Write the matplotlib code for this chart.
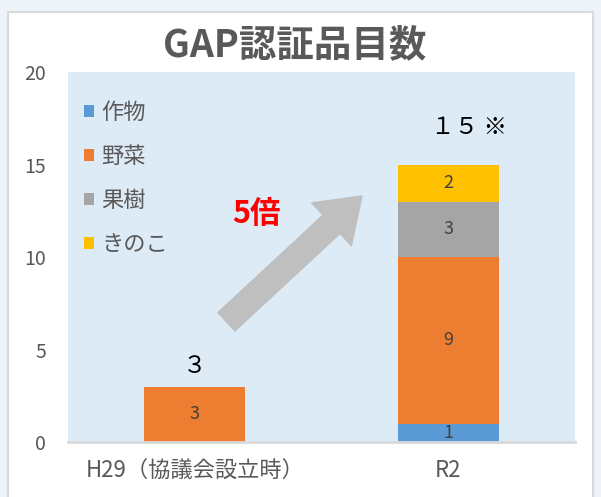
import numpy as np
import matplotlib
matplotlib.use('Agg')
from matplotlib import pyplot as plt
from matplotlib.patches import Rectangle

plt.rcParams['font.family'] = ['Noto Sans CJK JP', 'DejaVu Sans']

categories = ['H29（協議会設立時）', 'R2']
series = ['作物', '野菜', '果樹', 'きのこ']
values = {
    '作物': [0, 1],
    '野菜': [3, 9],
    '果樹': [0, 3],
    'きのこ': [0, 2],
}
colors = ['#5B9BD5', '#ED7D31', '#A5A5A5', '#FFC000']
total_labels = ['３', '１５ ※']

fig = plt.figure(figsize=(6.01, 4.97), dpi=100, facecolor='#EEF3F9')
# white chart panel
panel = Rectangle((8 / 601, -0.05), 585 / 601, 1.04 - 7 / 497,
                  transform=fig.transFigure, facecolor='white',
                  edgecolor='#D9D9D9', linewidth=1.5, zorder=-10)
fig.add_artist(panel)

ax = fig.add_axes([68 / 601, 55 / 497, 507 / 601, 370 / 497])
ax.set_zorder(5)
ax.set_facecolor('#DDEBF7')

x = np.arange(len(categories))
bottom = np.zeros(len(categories))
for name, c in zip(series, colors):
    v = np.array(values[name])
    bars = ax.bar(x, v, 0.4, bottom=bottom, color=c, label=name, zorder=2)
    for xi, vi, bi in zip(x, v, bottom):
        if vi > 0:
            ax.text(xi, bi + vi / 2, str(vi), ha='center', va='center',
                    fontsize=13, color='#404040', zorder=3)
    bottom += v

totals = bottom
ax.text(x[0], totals[0] + 1.1, total_labels[0], ha='center', va='center',
        fontsize=17, color='black')
ax.text(x[1] + 0.08, totals[1] + 2.0, total_labels[1], ha='center', va='center',
        fontsize=17, color='black')

# growth arrow
ax.annotate('', xy=(0.66, 13.3), xytext=(0.125, 6.5),
            arrowprops=dict(arrowstyle='simple,head_width=1.4,head_length=1.0,tail_width=0.6',
                            color='#BFBFBF', mutation_scale=30, shrinkA=0, shrinkB=0),
            zorder=1)
ax.text(0.245, 12.3, '5倍', color='#FF0000', fontsize=22, fontweight='bold',
        ha='center', va='center')

ax.set_xlim(-0.5, 1.5)
ax.set_ylim(0, 20)
ax.set_yticks([0, 5, 10, 15, 20])
ax.set_xticks(x)
ax.set_xticklabels(categories)
ax.tick_params(axis='y', length=0, pad=16, labelsize=14, labelcolor='#595959')
ax.tick_params(axis='x', length=0, pad=12, labelsize=16, labelcolor='#595959')
for s in ['top', 'left', 'right']:
    ax.spines[s].set_visible(False)
ax.spines['bottom'].set_color('#D9D9D9')
ax.spines['bottom'].set_linewidth(2)

leg = ax.legend(loc='upper left', frameon=False, fontsize=16, handlelength=0.45,
                handleheight=0.45, handletextpad=0.35, labelspacing=0.95,
                borderaxespad=0.3, bbox_to_anchor=(0.0, 0.965))
for t in leg.get_texts():
    t.set_color('#595959')

fig.text(295 / 601, 1 - 45 / 497, 'GAP認証品目数', ha='center', va='center',
         fontsize=27, fontweight='bold', color='#595959')

fig.savefig('out.png', dpi=100, facecolor=fig.get_facecolor())
